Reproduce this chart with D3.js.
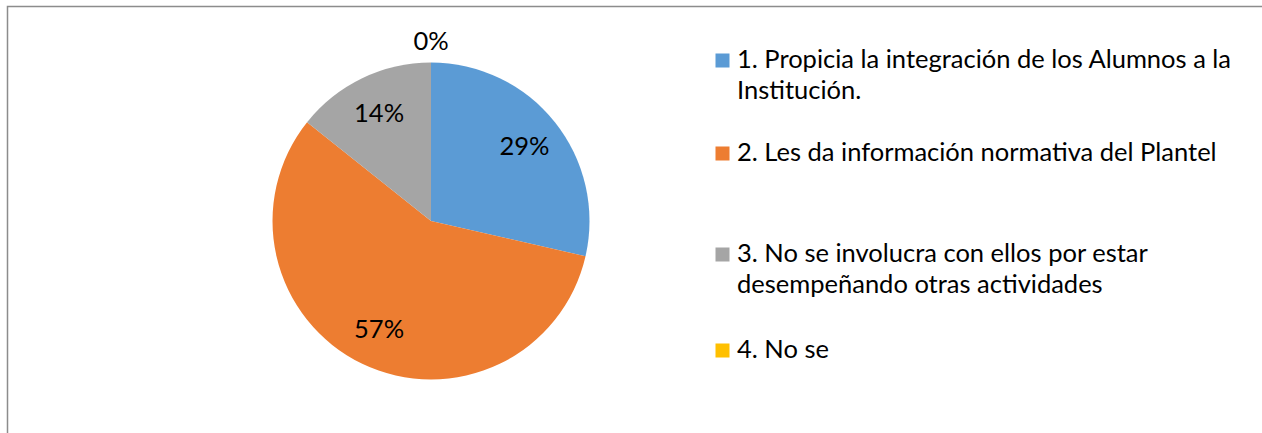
<!DOCTYPE html>
<html>
<head>
<meta charset="utf-8">
<script src="https://cdn.jsdelivr.net/npm/d3@7"></script>
<style>
  html, body { margin: 0; padding: 0; background: #ffffff; }
  svg { display: block; }
  text { font-family: Lato, "Liberation Sans", sans-serif; fill: #000; }
</style>
</head>
<body>
<svg id="chart" width="1262" height="433"></svg>
<script>
// Response categories and their counts
const categories = [
  "1. Propicia la integración de los Alumnos a la Institución.",
  "2. Les da información normativa del Plantel",
  "3. No se involucra con ellos por estar desempeñando otras actividades",
  "4. No se"
];
const counts = [2, 4, 1, 0];
const percentLabels = ["29%", "57%", "14%", "0%"];
const colors = ["#5B9BD5", "#ED7D31", "#A5A5A5", "#FFC000"];

const width = 1262, height = 433;
const svg = d3.select("#chart");

// Chart frame (only top and left edges fall inside the view)
svg.append("rect")
  .attr("x", 7.5).attr("y", 6.5)
  .attr("width", width + 20).attr("height", height + 20)
  .attr("fill", "none").attr("stroke", "#8c8c8c").attr("stroke-width", 1.5);

const cx = 431, cy = 221, radius = 158.5;
const fontSize = 25.5;

const pie = d3.pie().sort(null).value(d => d)(counts);
const arc = d3.arc().innerRadius(0).outerRadius(radius);

const g = svg.append("g").attr("transform", `translate(${cx},${cy})`);

g.selectAll("path.slice")
  .data(pie)
  .join("path")
  .attr("class", "slice")
  .attr("d", arc)
  .attr("fill", (d, i) => colors[i]);

// Data labels: inside the slice, or just outside the rim for an empty slice
const inner = d3.arc().innerRadius(radius * 0.755).outerRadius(radius * 0.755);
const outer = d3.arc().innerRadius(radius + 21).outerRadius(radius + 21);

g.selectAll("text.pct")
  .data(pie)
  .join("text")
  .attr("class", "pct")
  .attr("transform", d => `translate(${(d.value > 0 ? inner : outer).centroid(d)})`)
  .attr("text-anchor", "middle")
  .attr("dy", "0.35em")
  .attr("font-size", fontSize)
  .text((d, i) => percentLabels[i]);

// Legend with wrapped entries
const legendX = 715.5, textX = 737, maxTextWidth = 506;
const entryTops = [68, 161, 262, 358]; // baselines of first lines
const lineHeight = 31;

const legend = svg.append("g");
categories.forEach((label, i) => {
  const t = legend.append("text")
    .attr("x", textX).attr("y", entryTops[i])
    .attr("font-size", fontSize);
  const words = label.split(" ");
  let line = [], lineNo = 0;
  let tspan = t.append("tspan").attr("x", textX).attr("y", entryTops[i]);
  words.forEach(w => {
    line.push(w);
    tspan.text(line.join(" "));
    if (tspan.node().getComputedTextLength() > maxTextWidth && line.length > 1) {
      line.pop();
      tspan.text(line.join(" "));
      line = [w];
      lineNo++;
      tspan = t.append("tspan").attr("x", textX)
        .attr("y", entryTops[i] + lineNo * lineHeight).text(w);
    }
  });
  legend.append("rect")
    .attr("x", legendX).attr("y", entryTops[i] - 14.5)
    .attr("width", 14).attr("height", 14)
    .attr("fill", colors[i]);
});
</script>
</body>
</html>
